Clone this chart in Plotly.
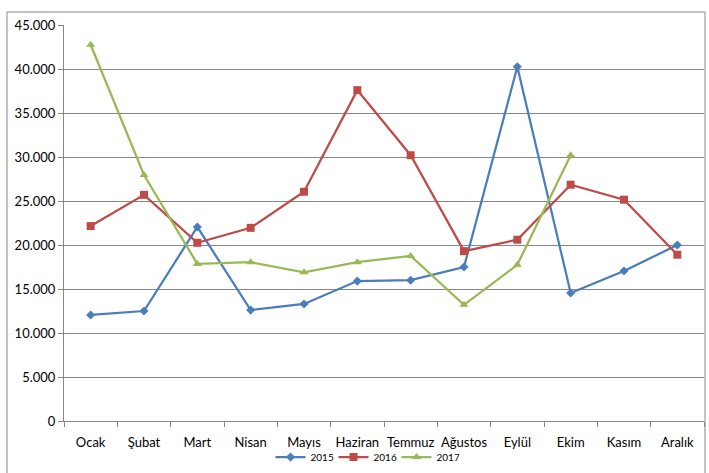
import plotly.graph_objects as go

months = ["Ocak", "Şubat", "Mart", "Nisan", "Mayıs", "Haziran", "Temmuz",
          "Ağustos", "Eylül", "Ekim", "Kasım", "Aralık"]
y2015 = [12050, 12500, 22050, 12600, 13300, 15900, 16000, 17500, 40250, 14550, 17050, 20000]
y2016 = [22150, 25700, 20250, 21950, 26050, 37600, 30200, 19300, 20600, 26850, 25150, 18900]
y2017 = [42750, 27950, 17850, 18050, 16900, 18050, 18750, 13200, 17750, 30200, None, None]

FONT = "Lato"
W, H = 709, 473

fig = go.Figure()
fig.add_trace(go.Scatter(x=months, y=y2015, name="2015", mode="lines+markers",
                         line=dict(color="#4A7EBB", width=2.25),
                         marker=dict(symbol="diamond", size=7, color="#4A7EBB")))
fig.add_trace(go.Scatter(x=months, y=y2016, name="2016", mode="lines+markers",
                         line=dict(color="#BE4B48", width=2.25),
                         marker=dict(symbol="square", size=8, color="#BE4B48")))
fig.add_trace(go.Scatter(x=months, y=y2017, name="2017", mode="lines+markers",
                         line=dict(color="#98B954", width=2.25),
                         marker=dict(symbol="triangle-up", size=8, color="#98B954")))

fig.update_layout(
    width=W, height=H,
    margin=dict(l=0, r=0, t=0, b=0, pad=0),
    paper_bgcolor="white", plot_bgcolor="white",
    separators=",.",
    font=dict(family=FONT, size=13, color="#000000"),
    showlegend=True,
    legend=dict(orientation="h", x=365 / W, xanchor="center", y=0.003,
                yanchor="bottom", font=dict(size=10, family=FONT), itemwidth=30,
                entrywidth=18, entrywidthmode="pixels",
                tracegroupgap=0, bgcolor="rgba(0,0,0,0)"),
    xaxis=dict(type="category", domain=[64 / W, 704 / W], range=[-0.5, len(months) - 0.5],
               showgrid=False, showline=True, linecolor="#868686",
               ticks="outside", tickson="boundaries", ticklen=5, tickcolor="#868686",
               tickangle=0, automargin=False, ticklabelstandoff=9,
               tickfont=dict(size=13, family=FONT)),
    yaxis=dict(domain=[(H - 421) / H, (H - 25) / H],
               range=[0, 45000], dtick=5000, tickformat=",d", showgrid=True,
               gridcolor="#868686", gridwidth=1, showline=True, linecolor="#868686",
               ticks="outside", ticklen=5, tickcolor="#868686", zeroline=False,
               automargin=False,
               tickfont=dict(size=13, family=FONT)),
    shapes=[dict(type="rect", xref="paper", yref="paper",
                 x0=7 / W, x1=705 / W, y0=-0.05, y1=(H - 12) / H,
                 line=dict(color="#868686", width=1), fillcolor="rgba(0,0,0,0)",
                 layer="below")],
)

fig.write_html("out.html", config={"displayModeBar": False},
               post_script="document.body.style.margin='0';document.body.style.overflow='hidden';")
